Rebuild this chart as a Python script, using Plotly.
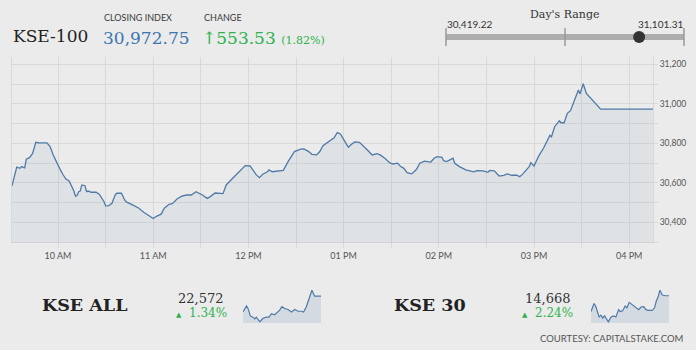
import plotly.graph_objects as go

W, H = 696, 350
DAY = "2017-01-02 "

# ---- KSE-100 intraday session ----
times = [
    "09:31", "09:34", "09:36", "09:37", "09:39", "09:40", "09:42", "09:44", "09:46", "09:48",
    "09:53", "09:55", "09:57", "09:59", "10:01", "10:03", "10:05", "10:07", "10:09", "10:10",
    "10:11", "10:12", "10:13", "10:14", "10:15", "10:17", "10:18", "10:19", "10:21", "10:24",
    "10:26", "10:29", "10:30", "10:32", "10:34", "10:36", "10:37", "10:40", "10:42", "10:43",
    "10:47", "10:51", "10:54", "10:58", "11:00", "11:02", "11:05", "11:07", "11:10", "11:12",
    "11:15", "11:18", "11:21", "11:24", "11:27", "11:31", "11:34", "11:36", "11:39", "11:44",
    "11:46", "11:49", "11:53", "11:56", "11:58", "12:01", "12:02", "12:03", "12:05", "12:07",
    "12:09", "12:12", "12:13", "12:15", "12:19", "12:22", "12:25", "12:27", "12:29", "12:33",
    "12:35", "12:38", "12:40", "12:43", "12:45", "12:47", "12:50", "12:54", "12:56", "12:58",
    "13:00", "13:03", "13:05", "13:07", "13:10", "13:12", "13:15", "13:18", "13:21", "13:23",
    "13:26", "13:29", "13:31", "13:34", "13:36", "13:38", "13:40", "13:43", "13:46", "13:48",
    "13:51", "13:55", "13:57", "13:59", "14:02", "14:03", "14:05", "14:07", "14:09", "14:10",
    "14:13", "14:17", "14:20", "14:22", "14:24", "14:28", "14:31", "14:32", "14:35", "14:38",
    "14:41", "14:43", "14:46", "14:49", "14:51", "14:53", "14:56", "14:57", "14:58", "15:00",
    "15:02", "15:03", "15:06", "15:08", "15:10", "15:11", "15:13", "15:16", "15:17", "15:19",
    "15:21", "15:23", "15:25", "15:27", "15:28", "15:29", "15:31", "15:33", "15:35", "15:42",
    "16:15",
]
values = [
    30584, 30679, 30673, 30682, 30676, 30719, 30727, 30749, 30805, 30802,
    30802, 30783, 30741, 30704, 30673, 30643, 30619, 30609, 30580, 30558,
    30532, 30535, 30555, 30558, 30589, 30585, 30555, 30558, 30552, 30552,
    30542, 30504, 30483, 30484, 30496, 30538, 30547, 30547, 30513, 30503,
    30488, 30471, 30451, 30432, 30419.22, 30430, 30441, 30471, 30491, 30494,
    30518, 30532, 30538, 30538, 30555, 30538, 30521, 30530, 30548, 30545,
    30589, 30614, 30648, 30673, 30687, 30685, 30673, 30665, 30640, 30626,
    30643, 30656, 30665, 30656, 30661, 30663, 30707, 30732, 30758, 30770,
    30771, 30758, 30744, 30741, 30758, 30788, 30805, 30828, 30854, 30847,
    30820, 30780, 30795, 30807, 30805, 30791, 30766, 30741, 30747, 30741,
    30724, 30702, 30695, 30699, 30682, 30673, 30651, 30645, 30668, 30699,
    30710, 30705, 30724, 30732, 30729, 30712, 30707, 30716, 30724, 30699,
    30682, 30665, 30660, 30655, 30661, 30660, 30653, 30663, 30660, 30634,
    30638, 30645, 30638, 30638, 30631, 30645, 30673, 30682, 30702, 30685,
    30719, 30736, 30775, 30808, 30840, 30833, 30884, 30914, 30904, 30904,
    30952, 30965, 31011, 31056, 31070, 31050, 31101.31, 31053, 31036, 30972.75,
    30972.75,
]

close_val = 30972.75
change_val = 553.53
day_low = 30419.22
day_high = 31101.31

# ---- KSE ALL sparkline ----
all_times = [
    "09:31", "09:49", "09:57", "10:09", "10:23", "10:32", "10:40", "10:58", "11:15", "11:32",
    "11:46", "11:58", "12:15", "12:27", "12:41", "12:53", "13:07", "13:24", "13:42", "13:59",
    "14:16", "14:34", "14:45", "14:59", "15:17", "15:28", "15:42", "16:15",
]
all_values = [
    22392, 22460, 22432, 22344, 22332, 22312, 22332, 22280, 22320, 22332,
    22332, 22372, 22360, 22384, 22412, 22452, 22432, 22420, 22392, 22420,
    22400, 22400, 22392, 22452, 22572, 22640, 22572, 22572,
]
all_close = 22572
all_pct = 1.34

# ---- KSE 30 sparkline ----
k30_times = [
    "09:31", "09:47", "09:55", "10:06", "10:13", "10:23", "10:32", "10:41", "10:53", "11:01",
    "11:15", "11:28", "11:40", "11:54", "12:02", "12:15", "12:28", "12:37", "12:49", "13:00",
    "13:12", "13:24", "13:38", "13:50", "14:04", "14:16", "14:27", "14:48", "15:00", "15:10",
    "15:19", "15:28", "15:40", "15:57", "16:15",
]
k30_values = [
    14539, 14605, 14584, 14533, 14494, 14509, 14485, 14503, 14479, 14455,
    14494, 14503, 14494, 14554, 14539, 14545, 14584, 14569, 14614, 14599,
    14584, 14569, 14554, 14575, 14578, 14554, 14548, 14548, 14569, 14629,
    14659, 14713, 14674, 14668, 14668,
]
k30_close = 14668
k30_pct = 2.24

# axis ticks
y_ticks = list(range(30300, 31201, 100))
y_tick_text = [f"{v:,}" if v % 200 == 0 else "" for v in y_ticks]
grid_times = ["10:00", "10:30", "11:00", "11:30", "12:00", "12:30", "13:00",
              "13:30", "14:00", "14:30", "15:00", "15:30", "16:00"]
hour_labels = {"10:00": "10 AM", "11:00": "11 AM", "12:00": "12 PM", "13:00": "01 PM",
               "14:00": "02 PM", "15:00": "03 PM", "16:00": "04 PM"}

BG = "#ebebeb"
GRID = "#d9d9d9"
LINE = "#4f7aa8"
GREEN = "#2eb34b"
SERIF = "DejaVu Serif"
SANS = "Lato"


def fx(px):
    return px / W


def fy(py):
    return 1 - py / H


def stamp(ts):
    return [DAY + t for t in ts]


fig = go.Figure()

# main intraday line with soft area fill
fig.add_trace(go.Scatter(
    x=stamp(times), y=values, mode="lines",
    line=dict(color=LINE, width=1.3),
    fill="tozeroy", fillcolor="rgba(79,122,168,0.08)",
    xaxis="x", yaxis="y", hoverinfo="skip",
))

# day's range bar
span = day_high - day_low
pad = span * 3 / 238
mid = (day_low + day_high) / 2
fig.add_trace(go.Scatter(
    x=[day_low, day_high], y=[0, 0], mode="lines",
    line=dict(color="#adadad", width=6), xaxis="x2", yaxis="y2", hoverinfo="skip",
))
fig.add_trace(go.Scatter(
    x=[day_low, day_low, None, mid, mid, None, day_high, day_high],
    y=[-1, 1, None, -1, 1, None, -1, 1], mode="lines",
    line=dict(color="#9a9a9a", width=1.5), xaxis="x2", yaxis="y2", hoverinfo="skip",
))
fig.add_trace(go.Scatter(
    x=[close_val], y=[0], mode="markers",
    marker=dict(color="#333333", size=12), xaxis="x2", yaxis="y2", hoverinfo="skip",
))

# sparklines
for t, v, ax in [(all_times, all_values, "3"), (k30_times, k30_values, "4")]:
    fig.add_trace(go.Scatter(
        x=stamp(t), y=v, mode="lines",
        line=dict(color=LINE, width=1.2),
        fill="tozeroy", fillcolor="rgba(79,122,168,0.14)",
        xaxis="x" + ax, yaxis="y" + ax, hoverinfo="skip",
    ))


def spark_range(v):
    lo, hi = min(v), max(v)
    p = (hi - lo) * 0.04
    return [lo - p, hi + p]


hidden = dict(visible=False, fixedrange=True, showgrid=False, zeroline=False)

fig.update_layout(
    width=W, height=H,
    margin=dict(l=0, r=0, t=0, b=0),
    paper_bgcolor=BG, plot_bgcolor=BG,
    showlegend=False,
    xaxis=dict(
        domain=[fx(12), fx(653)], type="date",
        range=[DAY + "09:31", DAY + "16:15"],
        tickvals=stamp(grid_times),
        ticktext=[hour_labels.get(t, "") for t in grid_times],
        showgrid=True, gridcolor=GRID, gridwidth=1,
        ticks="outside", ticklen=5, tickcolor=GRID,
        showline=True, linecolor="#d2d2d2", linewidth=1,
        tickfont=dict(family=SANS, size=9, color="#555555"),
        zeroline=False, fixedrange=True, anchor="y",
    ),
    yaxis=dict(
        domain=[fy(242), fy(57)], range=[30300, 31237],
        side="right", tickvals=y_ticks, ticktext=y_tick_text,
        showgrid=True, gridcolor=GRID, gridwidth=1,
        ticks="outside", ticklen=4, tickcolor=GRID,
        showline=True, mirror=True, linecolor=GRID, linewidth=1,
        tickfont=dict(family=SANS, size=8.5, color="#555555"),
        zeroline=False, fixedrange=True, anchor="x",
    ),
    xaxis2=dict(domain=[fx(446 - 3), fx(684 + 3)], range=[day_low - pad, day_high + pad],
                anchor="y2", **hidden),
    yaxis2=dict(domain=[fy(46), fy(28)], range=[-1, 1], anchor="x2", **hidden),
    xaxis3=dict(domain=[fx(243), fx(321)], type="date",
                range=[DAY + "09:31", DAY + "16:15"], anchor="y3", **hidden),
    yaxis3=dict(domain=[fy(323), fy(289)], range=spark_range(all_values), anchor="x3", **hidden),
    xaxis4=dict(domain=[fx(591), fx(669)], type="date",
                range=[DAY + "09:31", DAY + "16:15"], anchor="y4", **hidden),
    yaxis4=dict(domain=[fy(323), fy(289)], range=spark_range(k30_values), anchor="x4", **hidden),
)

annotations = []


def label(text, x, y, size, color, family, xanchor="left", weight="normal"):
    annotations.append(dict(
        text=text, x=fx(x), y=fy(y), xref="paper", yref="paper",
        xanchor=xanchor, yanchor="middle", showarrow=False,
        font=dict(family=family, size=size, color=color, weight=weight),
    ))


pct = change_val / (close_val - change_val) * 100

# header
label("KSE-100", 11, 36, 17, "#222222", SERIF)
label("CLOSING INDEX", 102, 18, 9, "#3a3a3a", SANS)
label(f"{close_val:,.2f}", 101, 38, 17, "#3b76b1", SERIF)
label("CHANGE", 202, 18, 9, "#3a3a3a", SANS)
label(f"↑{change_val:,.2f} <span style='font-size:11px'>({pct:.2f}%)</span>",
      200, 38, 17, GREEN, SERIF)

# day's range
label("Day's Range", 565, 14, 11, "#333333", SERIF, xanchor="center")
label(f"{day_low:,.2f}", 445, 24, 10, "#333333", SANS)
label(f"{day_high:,.2f}", 685, 24, 10, "#333333", SANS, xanchor="right")

# bottom panel
label("KSE ALL", 40, 305, 17.5, "#222222", SERIF, weight="bold")
label(f"{all_close:,}", 201, 298, 13, "#333333", SERIF, xanchor="center")
label(f"<span style='font-size:7px'>▲</span>  {all_pct:.2f}%", 201, 313, 12, GREEN, SERIF,
      xanchor="center")
label("KSE 30", 392, 305, 17.5, "#222222", SERIF, weight="bold")
label(f"{k30_close:,}", 548, 298, 13, "#333333", SERIF, xanchor="center")
label(f"<span style='font-size:7px'>▲</span>  {k30_pct:.2f}%", 547, 313, 12, GREEN, SERIF,
      xanchor="center")
label("COURTESY: CAPITALSTAKE.COM", 685, 338, 9.5, "#555555", SANS, xanchor="right")

fig.update_layout(annotations=annotations)

fig.write_html("out.html")
